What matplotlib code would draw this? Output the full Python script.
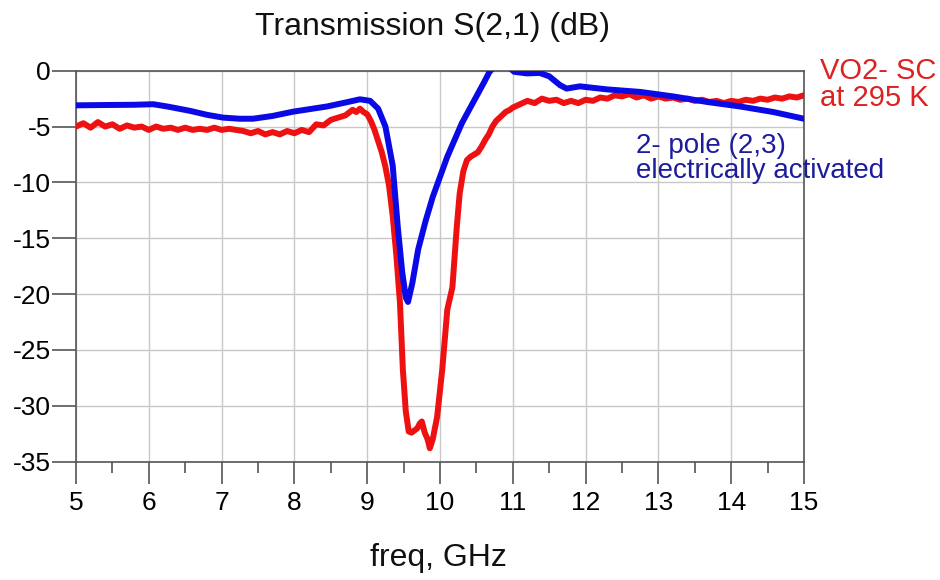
"""S21 transmission: VO2 switched two-pole filter vs. room-temperature reference."""

import matplotlib
matplotlib.use("Agg")
import matplotlib.pyplot as plt
from matplotlib.ticker import MultipleLocator

plt.rcParams["font.family"] = ["Liberation Sans", "DejaVu Sans"]
plt.rcParams["axes.unicode_minus"] = False

RED      = "#ee1111"
BLUE     = "#0a0ae6"
RED_TXT  = "#dd2222"
BLUE_TXT = "#1c1c9c"
GRID     = "#c8c8c8"
SPINE    = "#555555"

# VO2 switched circuit at 295 K
freq_sc = [
    5.0, 5.1, 5.2, 5.3, 5.4, 5.5, 5.6, 5.7, 5.8, 5.9,
    6.0, 6.1, 6.2, 6.3, 6.4, 6.5, 6.6, 6.7, 6.8, 6.9,
    7.0, 7.1, 7.2, 7.3, 7.4, 7.5, 7.6, 7.7, 7.8, 7.9,
    8.0, 8.1, 8.2, 8.3, 8.4, 8.5, 8.6, 8.7, 8.8, 8.85,
    8.9, 8.95, 9.0, 9.05, 9.1, 9.15, 9.2, 9.25, 9.3, 9.35,
    9.4, 9.45, 9.49, 9.53, 9.57, 9.61, 9.65, 9.69, 9.72, 9.75,
    9.79, 9.83, 9.86, 9.9, 9.96, 10.03, 10.1, 10.17, 10.23, 10.27,
    10.32, 10.37, 10.42, 10.47, 10.52, 10.57, 10.62, 10.67, 10.72, 10.77,
    10.82, 10.9, 10.96, 11.0, 11.1, 11.2, 11.3, 11.4, 11.5, 11.6,
    11.7, 11.8, 11.9, 12.0, 12.1, 12.2, 12.3, 12.4, 12.5, 12.6,
    12.7, 12.8, 12.9, 13.0, 13.1, 13.2, 13.3, 13.4, 13.5, 13.6,
    13.7, 13.8, 13.9, 14.0, 14.1, 14.2, 14.3, 14.4, 14.5, 14.6,
    14.7, 14.8, 14.9, 15.0,
]
s21_sc = [
    -5.0, -4.7, -5.1, -4.6, -5.0, -4.8, -5.2, -4.9, -5.1, -5.0,
    -5.3, -5.0, -5.2, -5.1, -5.3, -5.1, -5.3, -5.2, -5.3, -5.1,
    -5.3, -5.2, -5.3, -5.4, -5.6, -5.4, -5.7, -5.5, -5.7, -5.4,
    -5.6, -5.3, -5.5, -4.8, -4.9, -4.4, -4.2, -4.0, -3.5, -3.7,
    -3.4, -3.7, -3.9, -4.5, -5.3, -6.3, -7.3, -8.6, -10.3, -13.0,
    -16.5, -20.8, -26.8, -30.5, -32.3, -32.4, -32.2, -32.0, -31.6, -31.4,
    -32.4, -33.0, -33.8, -33.0, -31.0, -26.8, -21.4, -19.4, -14.0, -11.0,
    -9.0, -8.0, -7.7, -7.5, -7.3, -6.8, -6.2, -5.7, -5.0, -4.5,
    -4.2, -3.7, -3.5, -3.3, -3.0, -2.7, -2.9, -2.5, -2.7, -2.6,
    -2.9, -2.7, -2.9, -2.6, -2.7, -2.4, -2.5, -2.2, -2.3, -2.1,
    -2.4, -2.2, -2.5, -2.3, -2.5, -2.4, -2.6, -2.5, -2.7, -2.6,
    -2.8, -2.7, -2.9, -2.7, -2.8, -2.6, -2.7, -2.5, -2.6, -2.4,
    -2.5, -2.3, -2.4, -2.2,
]

# 2-pole (2,3), electrically activated
freq_ea = [
    5.0, 5.42, 5.8, 6.06, 6.25, 6.57, 6.8, 7.02, 7.25, 7.43,
    7.7, 7.98, 8.2, 8.45, 8.7, 8.9, 9.04, 9.15, 9.25, 9.35,
    9.42, 9.48, 9.53, 9.56, 9.62, 9.7, 9.8, 9.9, 10.0, 10.1,
    10.2, 10.3, 10.4, 10.5, 10.6, 10.68, 10.75, 10.85, 10.95, 11.02,
    11.19, 11.37, 11.5, 11.65, 11.74, 11.92, 12.29, 12.75, 13.2, 13.67,
    14.12, 14.58, 15.0,
]
s21_ea = [
    -3.1, -3.07, -3.05, -3.0, -3.2, -3.6, -3.95, -4.2, -4.3, -4.3,
    -4.05, -3.67, -3.45, -3.2, -2.85, -2.56, -2.7, -3.4, -5.0, -8.5,
    -14.0, -18.0, -20.3, -20.7, -19.0, -16.0, -13.5, -11.3, -9.5, -7.7,
    -6.2, -4.7, -3.5, -2.3, -1.1, -0.1, 0.4, 0.6, 0.3, -0.1,
    -0.24, -0.2, -0.5, -1.3, -1.6, -1.4, -1.67, -1.9, -2.3, -2.8,
    -3.2, -3.7, -4.3,
]

xticks = [5, 6, 7, 8, 9, 10, 11, 12, 13, 14, 15]
yticks = [0, -5, -10, -15, -20, -25, -30, -35]

fig = plt.figure(figsize=(9.4, 5.8), dpi=100)
ax = fig.add_axes([0.0809, 0.204, 0.7744, 0.6741])

ax.plot(freq_sc, s21_sc, color=RED, lw=4.3, solid_joinstyle="round", zorder=3)
ax.plot(freq_ea, s21_ea, color=BLUE, lw=4.3, solid_joinstyle="round", zorder=4)

ax.set_xlim(5, 15)
ax.set_ylim(-35, 0)
ax.set_xticks(xticks)
ax.set_yticks(yticks)
ax.xaxis.set_minor_locator(MultipleLocator(0.5))
ax.grid(True, which="major", color=GRID, lw=1.0, zorder=0)
ax.set_axisbelow(True)

for sp in ax.spines.values():
    sp.set_edgecolor(SPINE)
    sp.set_linewidth(1.2)

ax.tick_params(axis="x", which="major", direction="out", length=16, width=1.2,
               color=SPINE, labelsize=19, pad=5)
ax.tick_params(axis="x", which="minor", direction="out", length=8, width=1.2,
               color=SPINE)
ax.tick_params(axis="y", which="major", direction="out", length=17, width=1.2,
               color=SPINE, labelsize=19, pad=1)

fig.text(0.46, 1 - 12 / 580, "Transmission S(2,1) (dB)", ha="center", va="top",
         fontsize=23, color="#111111")
fig.text(0.466, 1 - 543 / 580, "freq, GHz", ha="center", va="top",
         fontsize=23, color="#111111")

fig.text(820 / 940, 1 - 57 / 580, "VO2- SC\nat 295 K", ha="left", va="top",
         fontsize=21, color=RED_TXT, linespacing=0.95)
fig.text(636 / 940, 1 - 133 / 580, "2- pole (2,3)\nelectrically activated",
         ha="left", va="top", fontsize=20, color=BLUE_TXT, linespacing=0.95)

fig.savefig("out.png", dpi=100, facecolor="white")
